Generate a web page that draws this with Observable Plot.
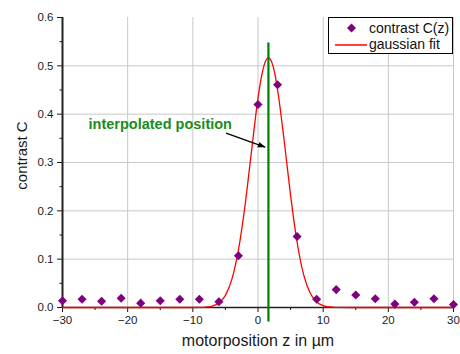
<!DOCTYPE html>
<html>
<head>
<meta charset="utf-8">
<script src="https://cdn.jsdelivr.net/npm/d3@7"></script>
<script src="https://cdn.jsdelivr.net/npm/@observablehq/plot@0.6"></script>
<style>
  html, body { margin: 0; padding: 0; background: #fff; }
  #wrap { position: relative; width: 460px; height: 354px; font-family: "Liberation Sans", Arial, sans-serif; }
  #legend { position: absolute; left: 328px; top: 17px; width: 125px; height: 37px; border: 1px solid #000; background: #fff; box-sizing: border-box; font-size: 14px; color: #111; }
  #legend .row { position: absolute; left: 0; height: 16px; line-height: 16px; }
  #legend .txt { position: absolute; left: 40px; white-space: nowrap; }
</style>
</head>
<body>
<div id="wrap">
  <div id="chart"></div>
  <div id="legend">
    <div class="row" style="top:2px; width:120px">
      <svg width="40" height="16" style="position:absolute;left:0;top:0"><path d="M22.5,3.5L27,8L22.5,12.5L18,8Z" fill="#800080"/></svg>
      <span class="txt">contrast C(z)</span>
    </div>
    <div class="row" style="top:18px; width:120px">
      <svg width="40" height="16" style="position:absolute;left:0;top:0"><line x1="6" x2="38" y1="9" y2="9" stroke="#ff0000" stroke-width="1.5"/></svg>
      <span class="txt">gaussian fit</span>
    </div>
  </div>
</div>
<script>
// measured contrast values
const zPositions = [-30,-27,-24,-21,-18,-15,-12,-9,-6,-3,0,3,6,9,12,15,18,21,24,27,30];
const contrast   = [0.014,0.017,0.013,0.019,0.009,0.014,0.017,0.017,0.012,0.107,0.420,0.461,0.147,0.017,0.037,0.026,0.018,0.007,0.011,0.018,0.006];

// gaussian fit curve
const fitZ = [-30,-12,-9,-8,-7,-6,-5,-4,-3,-2,-1,0,0.5,1,1.6,2,2.5,3,4,5,6,7,8,9,10,11,12,15,30];
const fitC = [0,0,0.0002,0.0009,0.003,0.0094,0.0251,0.0586,0.119,0.210,0.323,0.433,0.475,0.504,0.517,0.511,0.489,0.451,0.347,0.232,0.135,0.068,0.030,0.0115,0.0039,0.0011,0.0003,0,0];

// interpolated position marker
const markerZ = [1.6];
const markerRange = [-0.03, 0.547];

// annotation
const annoText = ["interpolated position"];
const annoPos = [-26, 0.379];
const arrowFrom = [-4.9, 0.361];
const arrowTo = [1.07, 0.332];

const xMajor = [-30,-20,-10,0,10,20,30];
const xMinor = [-25,-15,-5,5,15,25];
const yMajor = [0,0.1,0.2,0.3,0.4,0.5,0.6];
const yMinor = [0.05,0.15,0.25,0.35,0.45,0.55];

const points = zPositions.map((z, i) => ({z, c: contrast[i]}));
const fit = fitZ.map((z, i) => ({z, c: fitC[i]}));

function filledArrow(color, context) {
  const m = context.document.createElementNS("http://www.w3.org/2000/svg", "marker");
  m.setAttribute("viewBox", "-5 -5 10 10");
  m.setAttribute("markerWidth", "8");
  m.setAttribute("markerHeight", "8");
  m.setAttribute("markerUnits", "userSpaceOnUse");
  m.setAttribute("orient", "auto");
  m.setAttribute("refX", "4");
  m.setAttribute("fill", color);
  m.setAttribute("stroke", "none");
  const p = context.document.createElementNS("http://www.w3.org/2000/svg", "path");
  p.setAttribute("d", "M-5,-3.5L5,0L-5,3.5Z");
  m.appendChild(p);
  return m;
}

const chart = Plot.plot({
  width: 460,
  height: 354,
  marginLeft: 62,
  marginRight: 7,
  marginTop: 17,
  marginBottom: 47,
  style: {fontFamily: "Liberation Sans, Arial, sans-serif", background: "#fff"},
  x: {domain: [-30, 30]},
  y: {domain: [0, 0.6]},
  marks: [
    Plot.gridX(xMajor, {stroke: "#c8c8c8", strokeOpacity: 1, strokeWidth: 1}),
    Plot.gridY(yMajor.slice(1, -1), {stroke: "#c8c8c8", strokeOpacity: 1, strokeWidth: 1}),
    Plot.axisX({ticks: xMajor, tickSize: 5, tickPadding: 3, label: null, fontSize: 11.5, color: "#1a1a1a"}),
    Plot.axisX({ticks: xMinor, tickSize: 3, text: null, label: null, color: "#1a1a1a"}),
    Plot.axisY({ticks: yMajor, tickSize: 5, tickPadding: 4, label: null, fontSize: 11.5, tickFormat: d3.format(".1f"), color: "#1a1a1a"}),
    Plot.axisY({ticks: yMinor, tickSize: 2.5, text: null, label: null, color: "#1a1a1a"}),
    Plot.ruleY([0], {stroke: "#222", strokeWidth: 1.5}),
    Plot.ruleX([-30], {stroke: "#222", strokeWidth: 2}),
    Plot.line(fit, {x: "z", y: "c", stroke: "#ff0000", strokeWidth: 1.3, curve: "monotone-x"}),
    Plot.dot(points, {x: "z", y: "c", symbol: "diamond2", r: 4.1, fill: "#800080", stroke: "none"}),
    Plot.ruleX(markerZ, {y1: markerRange[0], y2: markerRange[1], stroke: "#008000", strokeWidth: 2.2}),
    Plot.text(annoText, {x: annoPos[0], y: annoPos[1], textAnchor: "start", fill: "#1a8c1a", fontWeight: "bold", fontSize: 14.5}),
    Plot.link([{x1: arrowFrom[0], y1: arrowFrom[1], x2: arrowTo[0], y2: arrowTo[1]}], {x1: "x1", y1: "y1", x2: "x2", y2: "y2", stroke: "#000", strokeWidth: 1.3, markerEnd: filledArrow}),
    Plot.text(["motorposition z in µm"], {frameAnchor: "bottom", dy: 38, fontSize: 16, fill: "#1a1a1a"}),
    Plot.text(["contrast C"], {frameAnchor: "left", textAnchor: "middle", dx: -40, dy: -7, rotate: -90, fontSize: 15, fill: "#1a1a1a"})
  ]
});
document.getElementById("chart").appendChild(chart);
</script>
</body>
</html>
